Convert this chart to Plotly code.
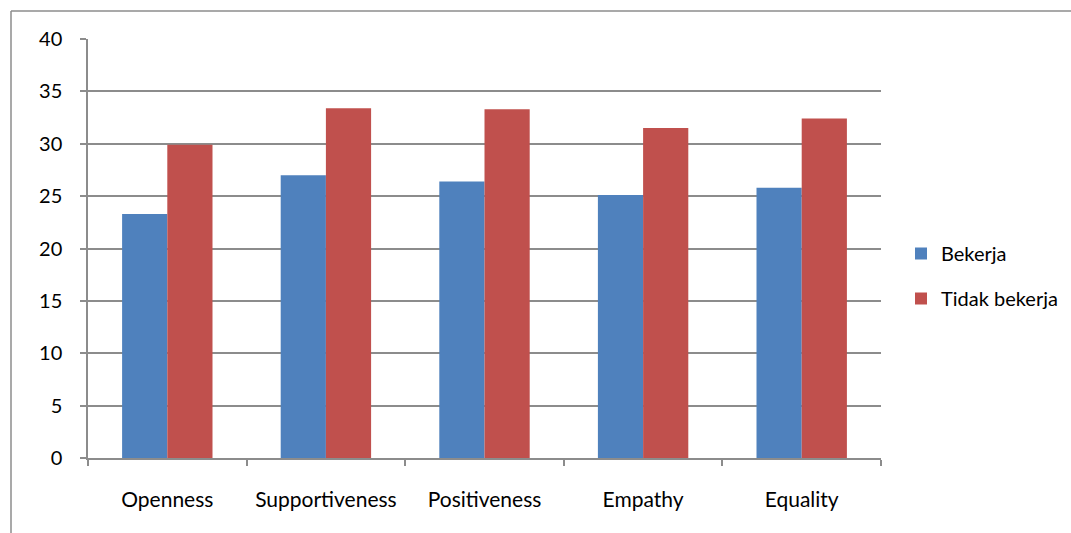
import plotly.graph_objects as go

categories = ["Openness", "Supportiveness", "Positiveness", "Empathy", "Equality"]
bekerja = [23.3, 27.0, 26.4, 25.1, 25.8]
tidak_bekerja = [29.9, 33.4, 33.3, 31.5, 32.4]
series_names = ["Bekerja", "Tidak bekerja"]
y_ticks = [0, 5, 10, 15, 20, 25, 30, 35, 40]

FONT = "Lato, 'Open Sans', sans-serif"
GRID = "#8c8c8c"

fig = go.Figure()
fig.add_trace(go.Bar(x=categories, y=bekerja, name=series_names[0],
                     marker=dict(color="#4F81BD", line=dict(width=0)),
                     legendgroup="a"))
fig.add_trace(go.Bar(x=categories, y=tidak_bekerja, name=series_names[1],
                     marker=dict(color="#C0504D", line=dict(width=0)),
                     legendgroup="b"))

W, H = 1071, 533
L, R, T, B = 88, 190, 39, 75
pw = W - L - R
ph = H - T - B

def px_x(px):
    return (px - L) / pw

def px_y(py):
    return (H - B - py) / ph

fig.update_layout(
    width=W, height=H,
    margin=dict(l=L, r=R, t=T, b=B),
    paper_bgcolor="white", plot_bgcolor="white",
    barmode="group", bargap=0.43, bargroupgap=0,
    font=dict(family=FONT, size=20, color="#000000"),
    showlegend=True,
    legend=dict(xref="container", yref="container",
                x=901 / W, y=(H - 276) / H, xanchor="left", yanchor="middle",
                traceorder="grouped", tracegroupgap=16,
                font=dict(family=FONT, size=20, color="#000000"),
                bgcolor="rgba(0,0,0,0)"),
    xaxis=dict(type="category", showgrid=False, showline=True, linecolor=GRID,
               linewidth=1.5, ticks="outside", tickson="boundaries", ticklen=6,
               tickcolor=GRID, tickwidth=1.5, ticklabelstandoff=22,
               tickfont=dict(family=FONT, size=21, color="#000000")),
    yaxis=dict(range=[0, 40], tickvals=y_ticks, showgrid=True, gridcolor=GRID,
               gridwidth=1.5, showline=True, linecolor=GRID, linewidth=1.5,
               ticks="outside", ticklen=6, tickcolor=GRID, tickwidth=1.5,
               ticklabelstandoff=14, zeroline=False,
               tickfont=dict(family=FONT, size=20, color="#000000")),
    shapes=[
        dict(type="line", xref="paper", yref="paper", x0=px_x(11), x1=px_x(1100),
             y0=px_y(11), y1=px_y(11), line=dict(color="#8c8c8c", width=1.5)),
        dict(type="line", xref="paper", yref="paper", x0=px_x(11), x1=px_x(11),
             y0=px_y(11), y1=px_y(560), line=dict(color="#8c8c8c", width=1.5)),
    ],
)

fig.write_html("out.html")
